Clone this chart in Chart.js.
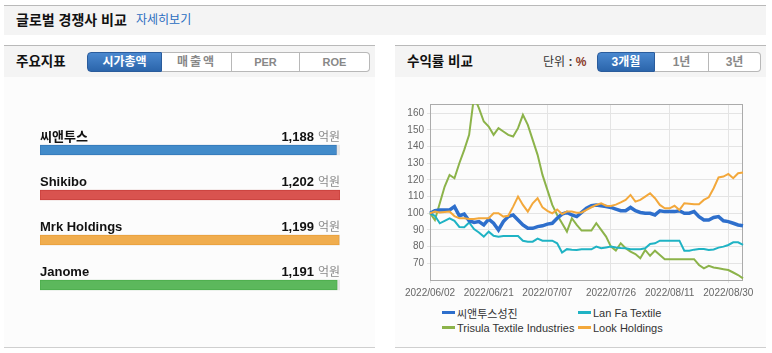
<!DOCTYPE html>
<html lang="ko">
<head>
<meta charset="utf-8">
<script src="https://cdn.jsdelivr.net/npm/chart.js@4.4.1/dist/chart.umd.min.js"></script>
<style>
  * { box-sizing: border-box; margin: 0; padding: 0; }
  body { width: 772px; height: 353px; background: #fff; position: relative; overflow: hidden;
         font-family: "Liberation Sans", "Noto Sans CJK KR", sans-serif; color: #111; }
  .abs { position: absolute; }
  .topbar { left: 4px; top: 5px; width: 762px; height: 30px; background: #f4f4f4; border-top: 1px solid #b9b9b9; }
  .title { font-weight: bold; font-size: 14px; line-height: 18px; }
  .more { color: #2a6dc0; font-size: 12px; line-height: 16px; }
  .panel { top: 45px; width: 371px; height: 303px; background: #fcfcfc; border-top: 1px solid #b9b9b9; border-bottom: 1px solid #cfcfcf; }
  .phead { top: 46px; width: 371px; height: 31px; background: #f4f4f4; }
  .ptitle { font-weight: bold; font-size: 13.5px; line-height: 18px; }
  .tabs { display: flex; height: 20px; }
  .tabs div { height: 20px; border: 1px solid #b8b8b8; border-left: none; background: #fff; color: #888;
              font-weight: bold; font-size: 12px; line-height: 18px; text-align: center; }
  .tabs div:first-child { border-left: 1px solid #b8b8b8; border-radius: 4px 0 0 4px; }
  .tabs div:last-child { border-radius: 0 4px 4px 0; }
  .tabs div.on { background: linear-gradient(#4a88cf, #2b65ab); border-color: #2a5c9c; color: #fff; }
  .unit { font-size: 12px; line-height: 16px; color: #333; }
  .unit b { color: #333; }
  .unit b span { color: #8a3b2a; }
  #legend { left: 442px; top: 305px; display: grid; grid-template-columns: 136px 136px; grid-auto-rows: 15px;
            font-size: 11px; color: #333; }
  #legend .it { display: flex; align-items: center; white-space: nowrap; }
  #legend .mk { width: 13px; height: 3px; margin-right: 2px; }
</style>
</head>
<body>
<div class="abs topbar"></div>
<div class="abs title" style="left:16px; top:11px;">글로벌 경쟁사 비교</div>
<div class="abs more" style="left:136px; top:12px;">자세히보기</div>

<div class="abs panel" style="left:4px;"></div>
<div class="abs phead" style="left:4px;"></div>
<div class="abs ptitle" style="left:16px; top:53px;">주요지표</div>
<div class="abs tabs" style="left:87px; top:52px;">
  <div class="on" style="width:75px;">시가총액</div>
  <div style="width:70px; letter-spacing:2px;">매출액</div>
  <div style="width:68px; font-size:11px;">PER</div>
  <div style="width:70px; font-size:11px;">ROE</div>
</div>
<canvas id="capChart" class="abs" width="371" height="269" style="left:4px; top:78px;"></canvas>

<div class="abs panel" style="left:395px;"></div>
<div class="abs phead" style="left:395px;"></div>
<div class="abs ptitle" style="left:407px; top:53px;">수익률 비교</div>
<div class="abs unit" style="left:543px; top:54px;">단위 <b>: <span>%</span></b></div>
<div class="abs tabs" style="left:597px; top:52px;">
  <div class="on" style="width:58px;">3개월</div>
  <div style="width:54px;">1년</div>
  <div style="width:52px;">3년</div>
</div>
<canvas id="retChart" class="abs" width="371" height="227" style="left:395px; top:78px;"></canvas>
<div id="legend" class="abs"></div>

<script>
// market cap (억원)
const companies = ['씨앤투스', 'Shikibo', 'Mrk Holdings', 'Janome'];
const marketCap = [1188, 1202, 1199, 1191];
const capColors = ['#428bca', '#d9534f', '#f0ad4e', '#5cb85c'];
const capBorders = ['#3578b8', '#c9403c', '#eaa03c', '#4cae4c'];
const unitLabel = '억원';

// 3-month return (%)
const dates = [
  '2022/06/02','2022/06/03','2022/06/07','2022/06/08','2022/06/09','2022/06/10','2022/06/13','2022/06/14',
  '2022/06/15','2022/06/16','2022/06/17','2022/06/20','2022/06/21','2022/06/22','2022/06/23','2022/06/24',
  '2022/06/27','2022/06/28','2022/06/29','2022/06/30','2022/07/01','2022/07/04','2022/07/05','2022/07/06',
  '2022/07/07','2022/07/08','2022/07/11','2022/07/12','2022/07/13','2022/07/14','2022/07/15','2022/07/18',
  '2022/07/19','2022/07/20','2022/07/21','2022/07/22','2022/07/25','2022/07/26','2022/07/27','2022/07/28',
  '2022/07/29','2022/08/01','2022/08/02','2022/08/03','2022/08/04','2022/08/05','2022/08/08','2022/08/09',
  '2022/08/10','2022/08/11','2022/08/12','2022/08/16','2022/08/17','2022/08/18','2022/08/19','2022/08/22',
  '2022/08/23','2022/08/24','2022/08/25','2022/08/26','2022/08/29','2022/08/30','2022/08/31','2022/09/01',
  '2022/09/02'
];
const xTickDates = ['2022/06/02', '2022/06/21', '2022/07/07', '2022/07/26', '2022/08/11', '2022/08/30'];
const yTicks = [70, 80, 90, 100, 110, 120, 130, 140, 150, 160];

const seriesNames = ['씨앤투스성진', 'Lan Fa Textile', 'Trisula Textile Industries', 'Look Holdings'];
const seriesColors = ['#2e6fcc', '#1fb3c4', '#8cb34a', '#f3a83b'];

const ssntReturn = [
  100, 101.5, 102, 102, 102, 104, 98.5, 99.5, 95.5, 94.5,
  95, 93, 96.5, 94, 90, 95, 98, 99, 96, 93,
  91, 91, 92, 92.5, 93.5, 94, 97, 99.5, 100.5, 99,
  98, 100.5, 103, 104.5, 105, 104.5, 104, 103.5, 102.5, 101.5,
  101.5, 103.5, 101.5, 100.5, 100, 100, 99, 101.5, 101, 101,
  101, 101.5, 100, 100, 101, 98, 96, 96, 97.5, 98,
  95.5, 95, 94, 93, 92.5
];
const lanfaReturn = [
  100, 98.5, 94, 95.5, 97, 95.5, 91.8, 91.6, 94.5, 90.5,
  88.5, 86, 89, 86.5, 86, 86.4, 86.4, 86.4, 86.4, 83.5,
  83, 83, 84.8, 83.6, 83.6, 83.6, 82, 76.5, 78.5, 78.2,
  78, 78.4, 78.4, 78.4, 80, 79, 79.5, 80, 79.5, 79.2,
  79, 78.5, 78.4, 78.4, 79, 81.6, 82, 83.6, 83.6, 83.6,
  83.6, 83.6, 77.6, 77.6, 78.2, 78.6, 78.6, 78, 78.3, 79.4,
  80, 81, 82.6, 82.6, 81
];
const trisulaReturn = [
  100, 96, 106, 116, 123, 121, 130, 138, 147, 170,
  163, 155, 152, 147, 151, 149, 147, 146, 151, 159,
  153, 144, 135, 123, 114, 105, 99, 94, 89, 97,
  93, 89.6, 89.6, 89.6, 94, 90, 86, 80, 77.6, 82,
  79, 77, 75.6, 73, 78, 74.5, 77.6, 75, 72.5, 72.5,
  72.5, 72.5, 72.5, 72.5, 72.5, 69, 67, 68.5, 67.5, 67,
  66.5, 66, 64.5, 63, 61
];
const lookReturn = [
  100, 101, 100.5, 100.8, 101, 98.3, 97, 97, 96.5, 96.6,
  97, 97, 97, 100, 100, 98, 98.5, 104, 110, 105,
  101, 106, 109, 103.5, 101.5, 100, 102.2, 99.5, 101, 101,
  100.3, 100.5, 102, 103.6, 105, 106, 104.5, 104.4, 105.2, 106.5,
  108, 111, 107, 108, 110, 112, 109, 105, 103, 103,
  104.5, 102, 106, 105.7, 105.4, 105.4, 108, 109.6, 115, 121.5,
  122, 123.6, 121, 124, 124.4
];
const returns = [ssntReturn, lanfaReturn, trisulaReturn, lookReturn];
const lineWidths = [3.5, 2, 2, 2];

const FONT = '"Liberation Sans", "Noto Sans CJK KR", sans-serif';

// names and values above each bar
const barLabels = {
    id: 'barLabels',
    afterDatasetsDraw(chart) {
        const ctx = chart.ctx;
        const right = chart.chartArea.right;
        ctx.save();
        ctx.textBaseline = 'alphabetic';
        chart.getDatasetMeta(0).data.forEach((bar, i) => {
            const y = bar.y - 9.5;
            ctx.font = 'bold 13px ' + FONT;
            ctx.fillStyle = '#111';
            ctx.textAlign = 'left';
            ctx.fillText(companies[i], bar.base, y);

            ctx.font = '12px "Noto Sans CJK KR", sans-serif';
            ctx.fillStyle = '#8a8a8a';
            ctx.textAlign = 'right';
            ctx.fillText(unitLabel, right, y);
            const uw = ctx.measureText(unitLabel).width;

            ctx.font = 'bold 13px ' + FONT;
            ctx.fillStyle = '#111';
            ctx.fillText(marketCap[i].toLocaleString('en-US'), right - uw - 4, y);
        });
        ctx.restore();
    }
};

new Chart(document.getElementById('capChart'), {
    type: 'bar',
    data: {
        labels: companies,
        datasets: [
            {
                data: marketCap,
                backgroundColor: capColors,
                borderColor: capBorders,
                borderWidth: 1,
                borderSkipped: false,
                barThickness: 10,
                grouped: false,
                order: 1
            },
            {
                // grey track behind each bar
                data: companies.map(() => Math.max(...marketCap)),
                backgroundColor: '#e6e6e6',
                borderWidth: 0,
                barThickness: 10,
                grouped: false,
                order: 2
            }
        ]
    },
    options: {
        indexAxis: 'y',
        responsive: false,
        animation: false,
        layout: { padding: { left: 36, right: 35, top: 49.5, bottom: 39.5 } },
        plugins: { legend: { display: false }, tooltip: { enabled: false } },
        scales: {
            x: { display: false, min: 0, max: Math.max(...marketCap) },
            y: { display: false }
        }
    },
    plugins: [barLabels]
});

// grey frame round the plot area
const plotFrame = {
    id: 'plotFrame',
    beforeDatasetsDraw(chart) {
        const { ctx, chartArea: a } = chart;
        ctx.save();
        ctx.strokeStyle = '#ababab';
        ctx.lineWidth = 1;
        ctx.strokeRect(a.left + 0.5, a.top + 0.5, a.right - a.left - 1, a.bottom - a.top);
        ctx.restore();
    }
};

new Chart(document.getElementById('retChart'), {
    type: 'line',
    data: {
        labels: dates,
        datasets: seriesNames.map((name, i) => ({
            label: name,
            data: returns[i],
            borderColor: seriesColors[i],
            backgroundColor: seriesColors[i],
            borderWidth: lineWidths[i],
            pointRadius: 0,
            tension: 0,
            order: i === 3 ? 0 : i + 1
        }))
    },
    options: {
        responsive: false,
        animation: false,
        layout: { padding: { top: 26, right: 23, left: 0, bottom: 0 } },
        plugins: { legend: { display: false }, tooltip: { enabled: false } },
        scales: {
            x: {
                offset: false,
                border: { display: false },
                grid: {
                    color: (c) => xTickDates.includes(dates[c.index]) ? '#e4e4e4' : 'transparent',
                    tickLength: 3
                },
                ticks: {
                    autoSkip: false,
                    maxRotation: 0,
                    minRotation: 0,
                    padding: 4,
                    color: '#666',
                    font: { family: FONT, size: 10 },
                    callback: function (v) {
                        const d = this.getLabelForValue(v);
                        return xTickDates.includes(d) ? d : '';
                    }
                },
                afterFit: (s) => { s.height = 25; }
            },
            y: {
                min: 60,
                max: 165.5,
                border: { display: false },
                grid: { color: '#e4e4e4', tickLength: 3 },
                ticks: { color: '#666', padding: 3, font: { family: FONT, size: 10 } },
                afterBuildTicks: (s) => { s.ticks = yTicks.map(v => ({ value: v })); },
                afterFit: (s) => { s.width = 35; }
            }
        }
    },
    plugins: [plotFrame]
});

// legend in two columns, as on the page
const legend = document.getElementById('legend');
seriesNames.forEach((name, i) => {
    const it = document.createElement('div');
    it.className = 'it';
    it.innerHTML = '<span class="mk" style="background:' + seriesColors[i] + '"></span>' + name;
    legend.appendChild(it);
});
</script>
</body>
</html>
